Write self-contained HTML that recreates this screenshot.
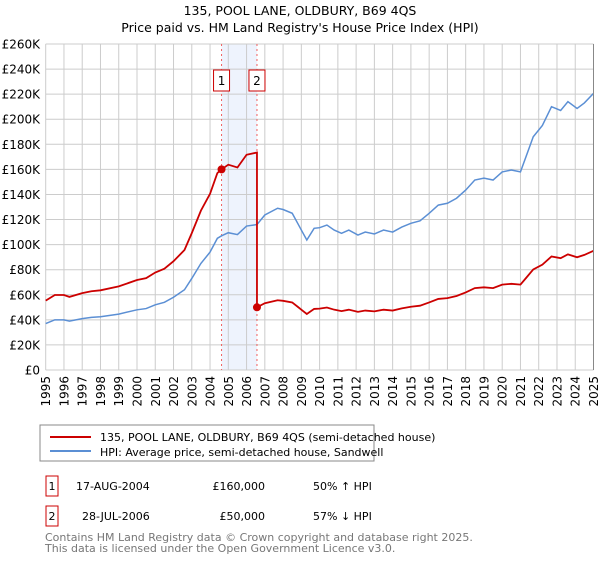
<!DOCTYPE html>
<html><head><meta charset="utf-8"><style>
body{margin:0;background:#fff;width:600px;height:560px;overflow:hidden;font-family:"DejaVu Sans","Liberation Sans",sans-serif;}
svg text{font-family:"DejaVu Sans","Liberation Sans",sans-serif;}
</style></head><body>
<svg id="chart" width="600" height="560">
<text x="300" y="15" text-anchor="middle" font-size="12.5">135, POOL LANE, OLDBURY, B69 4QS</text>
<text x="300" y="32" text-anchor="middle" font-size="12.5">Price paid vs. HM Land Registry's House Price Index (HPI)</text>
<g id="shade"></g><g id="grid"></g><g id="marks"></g><g id="series"></g><g id="axes"></g>
<rect x="40" y="425" width="334" height="36" fill="#fff" stroke="#888"/>
<line x1="50" y1="437" x2="91" y2="437" stroke="#cc0000" stroke-width="2"/>
<text x="100" y="441" font-size="11">135, POOL LANE, OLDBURY, B69 4QS (semi-detached house)</text>
<line x1="50" y1="451" x2="91" y2="451" stroke="#5b8fd4" stroke-width="2"/>
<text x="100" y="456" font-size="11">HPI: Average price, semi-detached house, Sandwell</text>
<g font-size="11">
<rect x="46" y="476" width="12" height="20" fill="none" stroke="#cc0000"/>
<text x="52" y="490" text-anchor="middle">1</text>
<text x="76" y="490">17-AUG-2004</text>
<text x="265" y="490" text-anchor="end">£160,000</text>
<text x="313" y="490">50% ↑ HPI</text>
<rect x="46" y="506" width="12" height="20" fill="none" stroke="#cc0000"/>
<text x="52" y="520" text-anchor="middle">2</text>
<text x="82" y="520">28-JUL-2006</text>
<text x="265" y="520" text-anchor="end">£50,000</text>
<text x="313" y="520">57% ↓ HPI</text>
</g>
<text x="45" y="541" font-size="11" fill="#777">Contains HM Land Registry data © Crown copyright and database right 2025.</text>
<text x="45" y="552" font-size="11" fill="#777">This data is licensed under the Open Government Licence v3.0.</text>
</svg>
<script>
const hpiYears=[1995,1995.5,1996,1996.3,1997,1997.5,1998,1999,2000,2000.5,2001,2001.5,2002,2002.6,2003,2003.5,2004,2004.4,2004.63,2005,2005.5,2006,2006.57,2007,2007.7,2008,2008.5,2008.8,2009,2009.3,2009.7,2010,2010.4,2010.8,2011.2,2011.6,2012.1,2012.5,2013,2013.5,2014,2014.5,2015,2015.5,2016,2016.5,2017,2017.5,2018,2018.5,2019,2019.5,2020,2020.5,2021,2021.3,2021.7,2022.2,2022.7,2023.2,2023.6,2024.1,2024.5,2025];
const hpiValues=[37,40,40,39,41,42,42.5,44.6,48,49,52,54,58,64,73,85,94,105,107,109.5,108,114.8,116,123.6,129,128,125,117,111.6,103.7,113,113.5,115.6,111.6,109,111.6,107.6,110,108.5,111.6,110,114,117,119,125,131.5,133,137,143.5,151.5,153,151.5,158,159.5,158,170,186,195,210,207,214,208.6,213,220.6];
const saleYears=[2004.63,2006.57];
const salePrices=[160,50];
const yTicks=[0,20,40,60,80,100,120,140,160,180,200,220,240,260];
const xTicks=[1995,1996,1997,1998,1999,2000,2001,2002,2003,2004,2005,2006,2007,2008,2009,2010,2011,2012,2013,2014,2015,2016,2017,2018,2019,2020,2021,2022,2023,2024,2025];
const NS="http://www.w3.org/2000/svg";
const X0=45.7,X1=593.5,Y0=370,Y1=44;
const xs=y=>X0+(y-1995)/30*(X1-X0);
const ys=v=>Y0-v/260*(Y0-Y1);
function mk(tag,attrs,parent){const e=document.createElementNS(NS,tag);for(const k in attrs)e.setAttribute(k,attrs[k]);parent.appendChild(e);return e;}
const grid=document.getElementById('grid'),axes=document.getElementById('axes'),ser=document.getElementById('series'),shade=document.getElementById('shade'),marks=document.getElementById('marks');
const sr=mk('rect',{x:xs(saleYears[0]),y:Y1,width:xs(saleYears[1])-xs(saleYears[0]),height:Y0-Y1,fill:'#eef3fd'},shade);


yTicks.forEach(v=>{const l=mk('line',{x1:X0,x2:X1,y1:ys(v),y2:ys(v),stroke:'#ccc'},grid);


const t=mk('text',{x:40,y:ys(v)+4.5,'text-anchor':'end','font-size':'12'},axes);t.textContent=v===0?'£0':'£'+v+'K';

});
xTicks.forEach(yr=>{const l=mk('line',{x1:xs(yr),x2:xs(yr),y1:Y1,y2:Y0,stroke:'#ccc'},grid);


const t=mk('text',{x:0,y:0,'text-anchor':'end','font-size':'12',transform:`translate(${xs(yr)+4.5},376) rotate(-90)`},axes);t.textContent=yr;

});
saleYears.forEach((sy,i)=>{const l=mk('line',{x1:xs(sy),x2:xs(sy),y1:Y1,y2:Y0,stroke:'#f06060','stroke-dasharray':'2,3'},marks);


const b=mk('rect',{x:xs(sy)-8,y:70,width:16,height:21,fill:'#fff',stroke:'#cc0000'},axes);


const t=mk('text',{x:xs(sy),y:85,'text-anchor':'middle','font-size':'12'},axes);t.textContent=i+1;

});
mk('line',{x1:X1,x2:X1,y1:Y1,y2:Y0,stroke:'#888'},axes);
const hp=mk('polyline',{points:hpiYears.map((y,i)=>xs(y)+','+ys(hpiValues[i])).join(' '),fill:'none',stroke:'#5b8fd4','stroke-width':1.5},ser);


function hpiAt(yr){for(let i=1;i<hpiYears.length;i++){if(yr<=hpiYears[i]){const t=(yr-hpiYears[i-1])/(hpiYears[i]-hpiYears[i-1]);return hpiValues[i-1]+t*(hpiValues[i]-hpiValues[i-1]);}}return hpiValues[hpiValues.length-1];}
const r1=salePrices[0]/hpiAt(saleYears[0]),r2=salePrices[1]/hpiAt(saleYears[1]);
const pts=[];
hpiYears.forEach((y,i)=>{if(y<saleYears[1])pts.push([y,hpiValues[i]*r1]);});
pts.push([saleYears[1],hpiAt(saleYears[1])*r1]);pts.push([saleYears[1],salePrices[1]]);
hpiYears.forEach((y,i)=>{if(y>saleYears[1])pts.push([y,hpiValues[i]*r2]);});
const pl=mk('polyline',{points:pts.map(p=>xs(p[0])+','+ys(p[1])).join(' '),fill:'none',stroke:'#cc0000','stroke-width':1.8},ser);


saleYears.forEach((sy,i)=>{const c=mk('circle',{cx:xs(sy),cy:ys(salePrices[i]),r:4,fill:'#cc0000'},ser);

});
</script>
</body></html>
